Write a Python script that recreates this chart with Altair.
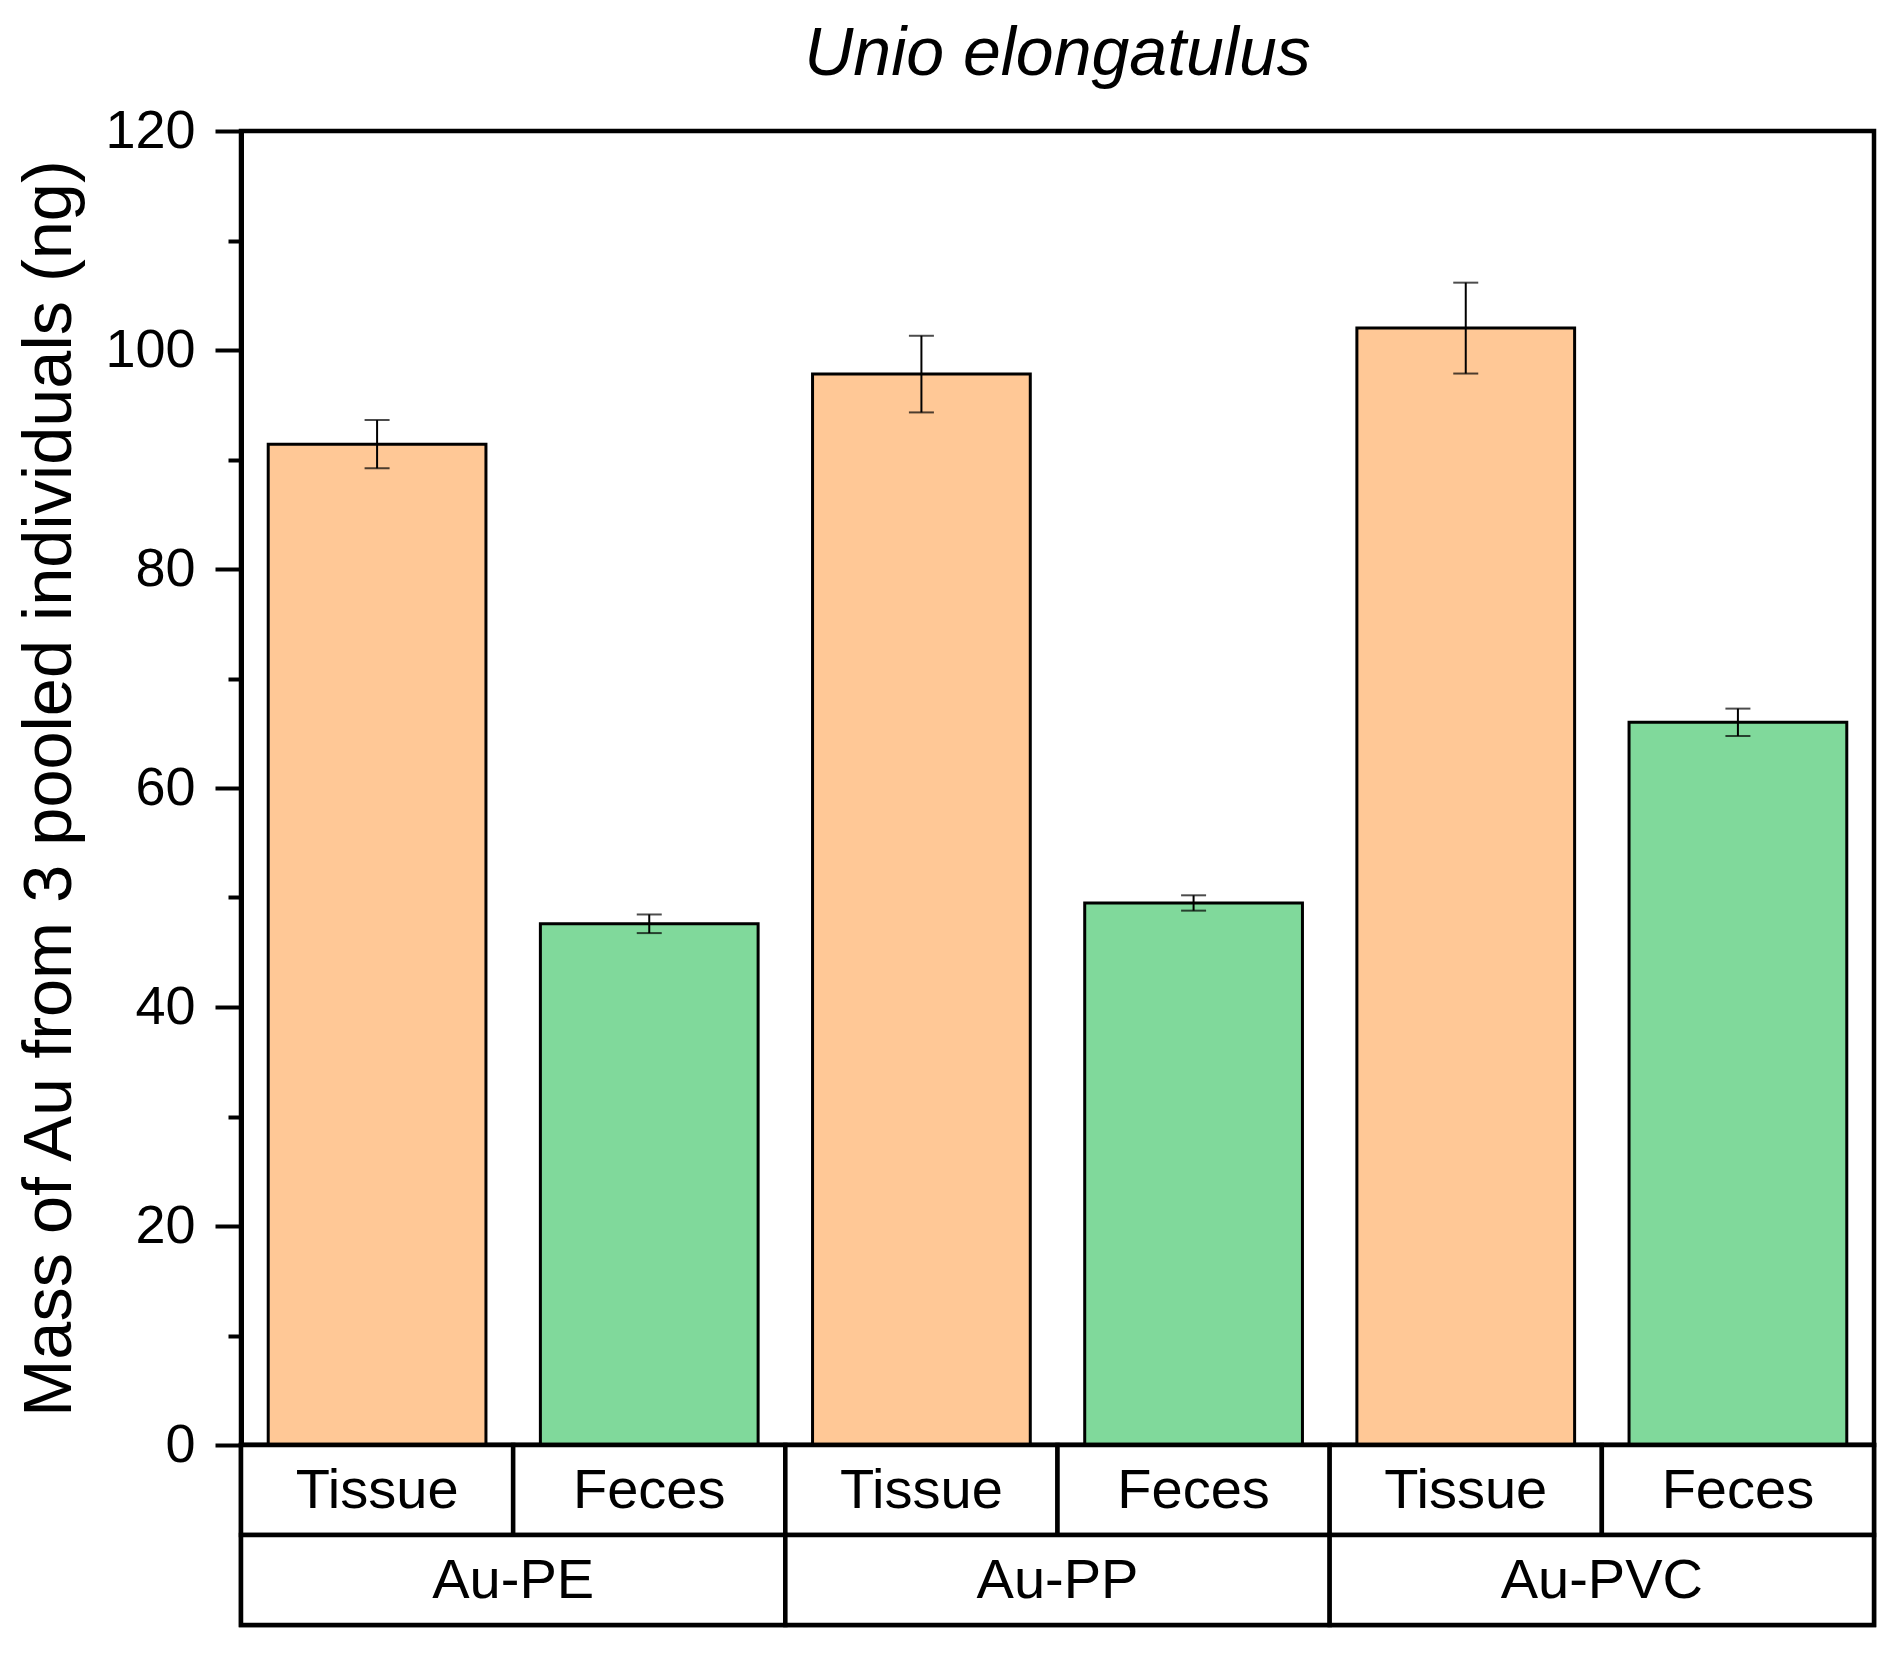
import altair as alt
import pandas as pd

groups = ["Au-PE", "Au-PP", "Au-PVC"]
samples = ["Tissue", "Feces"]
means = [91.4, 47.6, 97.8, 49.5, 102.0, 66.0]
errors = [2.2, 0.85, 3.5, 0.7, 4.15, 1.25]
y_major = [0, 20, 40, 60, 80, 100, 120]
y_minor = [10, 30, 50, 70, 90, 110]

FONT = "Liberation Sans"
ORANGE = "#FFC896"
GREEN = "#80D99B"
W, H, TH = 1633, 1314, 180

rows = []
for gi, g in enumerate(groups):
    for si, s in enumerate(samples):
        i = gi * 2 + si
        rows.append(dict(group=g, sample=s, key=f"{g} {s}", idx=i,
                         mean=means[i], lo=means[i] - errors[i], hi=means[i] + errors[i]))
df = pd.DataFrame(rows)
keys = list(df["key"])

cells = []
for r in rows:
    cells.append(dict(row="r1", x0=r["idx"], x1=r["idx"] + 1, label=r["sample"]))
for gi, g in enumerate(groups):
    cells.append(dict(row="r2", x0=gi * 2, x1=gi * 2 + 2, label=g))
cdf = pd.DataFrame(cells)
cdf["xc"] = (cdf["x0"] + cdf["x1"]) / 2

xscale = alt.Scale(domain=keys, paddingInner=0.2, paddingOuter=0.1)
yscale = alt.Scale(domain=[0, 120], nice=False, zero=True)

base = alt.Chart(df).encode(x=alt.X("key:N", scale=xscale, axis=None, sort=keys))

bars = base.mark_bar(stroke="black", strokeWidth=3).encode(
    y=alt.Y("mean:Q", scale=yscale,
            axis=alt.Axis(values=y_major, title="Mass of Au from 3 pooled individuals (ng)",
                          tickSize=26, tickWidth=4, tickColor="black",
                          domainWidth=5, domainColor="black",
                          labelFontSize=54, labelFont=FONT, labelColor="black", labelPadding=20,
                          titleFontSize=68.5, titleFont=FONT, titleColor="black",
                          titleFontWeight="normal", titlePadding=20, grid=False, orient="left")),
    color=alt.Color("sample:N", scale=alt.Scale(domain=samples, range=[ORANGE, GREEN]), legend=None),
)
err = base.mark_rule(color="black", strokeWidth=2).encode(
    y=alt.Y("lo:Q", scale=yscale, axis=None), y2="hi:Q")
cap_lo = base.mark_tick(color="black", size=25, thickness=2).encode(
    y=alt.Y("lo:Q", scale=yscale, axis=None))
cap_hi = base.mark_tick(color="black", size=25, thickness=2).encode(
    y=alt.Y("hi:Q", scale=yscale, axis=None))

minor = alt.Chart(pd.DataFrame({"mv": y_minor})).mark_point(opacity=0).encode(
    y=alt.Y("mv:Q", scale=yscale,
            axis=alt.Axis(values=y_minor, labels=False, domain=False, title=None,
                          tickSize=13, tickWidth=4, tickColor="black", grid=False, orient="left"))
)

top = alt.layer(bars, err, cap_lo, cap_hi, minor).resolve_axis(y="independent").properties(
    width=W, height=H,
    title=alt.TitleParams("Unio elongatulus", font=FONT, fontSize=68, fontStyle="italic",
                          fontWeight="normal", color="black", anchor="middle", frame="group", offset=15),
)

tx = alt.Scale(domain=[0, 6], nice=False, zero=False)
ty = alt.Scale(domain=["r1", "r2"], paddingInner=0, paddingOuter=0)
tbase = alt.Chart(cdf)
rects = tbase.mark_rect(fill="white", stroke="black", strokeWidth=4.5).encode(
    x=alt.X("x0:Q", scale=tx, axis=None), x2="x1:Q",
    y=alt.Y("row:N", scale=ty, axis=None),
)
texts = tbase.mark_text(font=FONT, fontSize=56, color="black", baseline="middle", dy=1).encode(
    x=alt.X("xc:Q", scale=tx, axis=None),
    y=alt.Y("row:N", scale=ty, axis=None),
    text="label:N",
)
table = alt.layer(rects, texts).properties(width=W, height=TH)

chart = alt.vconcat(top, table, spacing=0, bounds="flush").properties(
    padding={"left": 5, "top": 10, "right": 10, "bottom": 10},
    background="white",
).configure_view(stroke="black", strokeWidth=4.5)

chart.save("out.html", embed_options={"renderer": "svg", "actions": False})
